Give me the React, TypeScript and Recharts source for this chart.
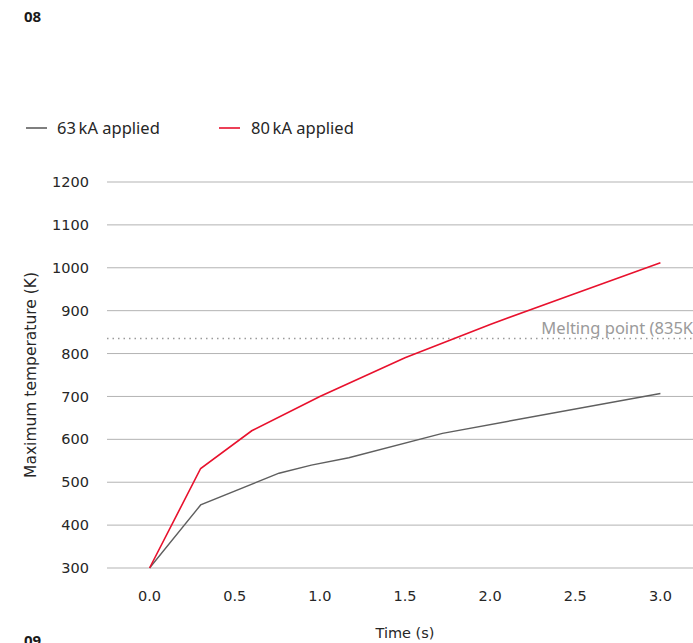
import { LineChart, Line, XAxis, YAxis, CartesianGrid, ReferenceLine, Label } from 'recharts';

const times = [0, 0.3, 0.6, 0.76, 0.95, 1.0, 1.17, 1.5, 1.72, 2.0, 2.5, 3.0];
const temp63: (number | null)[] = [300, 447, null, 521, 540, null, 557, null, 614, null, null, 707];
const temp80: (number | null)[] = [300, 532, 620, null, null, 700, null, 790, null, 868, 940, 1012];
const xTicks = [0, 0.5, 1, 1.5, 2, 2.5, 3];
const yTicks = [300, 400, 500, 600, 700, 800, 900, 1000, 1100, 1200];
const meltingPoint = 835;

const data = times.map((t, i) => ({ t, a63: temp63[i], a80: temp80[i] }));

const GREY = '#5f5f5f';
const RED = '#e8112d';
const tickStyle = { fontSize: 14.5, fill: '#262626', fontFamily: 'DejaVu Sans' };

function LegendItem({ color, label, left, gap }: { color: string; label: string; left: number; gap: number }) {
  return (
    <div style={{ position: 'absolute', left, top: 116, display: 'flex', alignItems: 'center' }}>
      <svg width={21} height={4} style={{ marginRight: gap }}>
        <line x1={0} y1={2} x2={21} y2={2} stroke={color} strokeWidth={1.6} />
      </svg>
      <span style={{ fontSize: 16.5, color: '#262626' }}>{label}</span>
    </div>
  );
}

export default function App() {
  return (
    <div
      style={{
        position: 'absolute', top: 0, left: 0, width: 693, height: 643,
        overflow: 'hidden', background: '#fff', fontFamily: 'Noto Sans, sans-serif',
      }}
    >
      <div style={{ position: 'absolute', left: 24, top: 6, fontSize: 15, fontWeight: 700, color: '#1a1a1a' }}>08</div>
      <div style={{ position: 'absolute', left: 24, top: 630, fontSize: 15, fontWeight: 700, color: '#1a1a1a' }}>09</div>
      <LegendItem color={GREY} label={'63\u2009kA applied'} left={26} gap={10} />
      <LegendItem color={RED} label={'80\u2009kA applied'} left={219} gap={11} />

      <div style={{ position: 'absolute', left: 0, top: 0 }}>
        <LineChart width={720} height={643} data={data} margin={{ top: 182, right: 17, bottom: 0, left: 0 }}>
          <CartesianGrid vertical={false} stroke="#b3b3b3" />
          <XAxis
            dataKey="t"
            type="number"
            domain={[-0.25, 3.25]}
            ticks={xTicks}
            tickFormatter={(v: number) => v.toFixed(1)}
            axisLine={false}
            tickLine={false}
            tickSize={0}
            tickMargin={23}
            height={75}
            tick={tickStyle}
          >
            <Label value="Time (s)" position="insideBottom" offset={5} style={{ fontSize: 14.5, fill: '#262626', fontFamily: 'DejaVu Sans' }} />
          </XAxis>
          <YAxis
            type="number"
            domain={[300, 1200]}
            ticks={yTicks}
            axisLine={false}
            tickLine={false}
            tickSize={0}
            tickMargin={18}
            width={107}
            tick={tickStyle}
          >
            <Label
              content={() => (
                <text
                  x={36}
                  y={375}
                  transform="rotate(-90 36 375)"
                  textAnchor="middle"
                  style={{ fontSize: 15.5, fill: '#262626', fontFamily: 'DejaVu Sans' }}
                >
                  Maximum temperature (K)
                </text>
              )}
            />
          </YAxis>
          <ReferenceLine
            y={meltingPoint}
            stroke="#9a9a9a"
            strokeWidth={1.5}
            strokeDasharray="1.5 4"
            label={{ value: 'Melting point (835K)', position: 'insideBottomRight', offset: 5, fontSize: 16.5, fill: '#9a9a9a' }}
          />
          <Line type="linear" dataKey="a63" stroke={GREY} strokeWidth={1.4} dot={false} connectNulls isAnimationActive={false} />
          <Line type="linear" dataKey="a80" stroke={RED} strokeWidth={1.6} dot={false} connectNulls isAnimationActive={false} />
        </LineChart>
      </div>
    </div>
  );
}
